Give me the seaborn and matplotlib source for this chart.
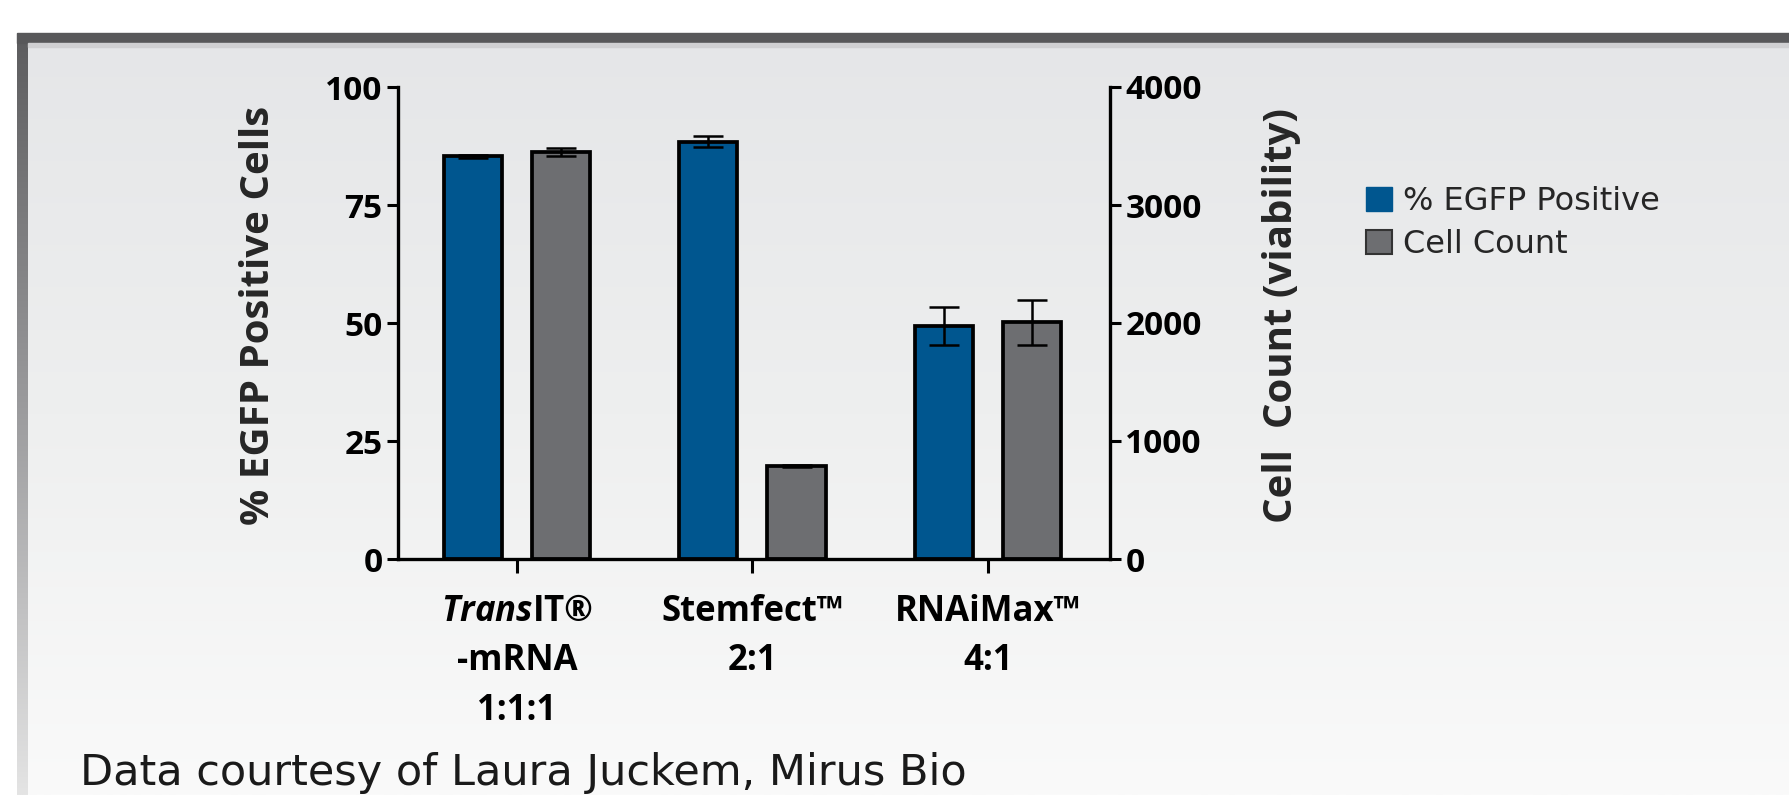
import matplotlib
matplotlib.use("Agg")
import numpy as np
import pandas as pd
import matplotlib.pyplot as plt
import seaborn as sns
from matplotlib.patches import Rectangle, Patch
from matplotlib.colors import LinearSegmentedColormap

# values
conditions = ["TransIT-mRNA 1:1:1", "Stemfect 2:1", "RNAiMax 4:1"]
tick_labels = [r"$\it{Trans}$IT®" + "\n-mRNA\n1:1:1", "Stemfect™\n2:1", "RNAiMax™\n4:1"]
series = ["% EGFP Positive", "Cell Count"]
egfp_pct = [85.3, 88.4, 49.3]
egfp_err = [0.3, 1.2, 4.0]
cell_count = [3450, 790, 2005]
cell_err = [35, 10, 190]
pct_ticks = [0, 25, 50, 75, 100]
count_ticks = [0, 1000, 2000, 3000, 4000]

blue = "#00568F"
gray = "#6D6E71"

sns.set_style("ticks")
plt.rcParams["font.family"] = ["Open Sans", "DejaVu Sans"]
plt.rcParams["mathtext.fontset"] = "custom"
plt.rcParams["mathtext.it"] = "Open Sans:italic:bold"
plt.rcParams["mathtext.rm"] = "Open Sans:bold"

fig = plt.figure(figsize=(17.9, 7.95), dpi=100)

# slide-style background panel
bg = fig.add_axes([0, 0, 1, 1], zorder=-10)
bg.axis("off")
panel = LinearSegmentedColormap.from_list("panel", ["#E5E6E8", "#EEEFEF", "#FAFAFA"])
bg.imshow(np.linspace(0, 1, 256).reshape(-1, 1), cmap=panel, aspect="auto",
          extent=(17, 1790, 795, 33), origin="upper")
edge = LinearSegmentedColormap.from_list("edge", ["#5C5C5E", "#9C9C9E", "#E4E4E4"])
bg.imshow(np.linspace(0, 1, 256).reshape(-1, 1), cmap=edge, aspect="auto",
          extent=(17, 28, 795, 33), origin="upper")
bg.add_patch(Rectangle((17, 33), 1773, 10, color="#58585A"))
bg.add_patch(Rectangle((28, 43), 1762, 4, color="#D0D0D2"))
bg.set_xlim(0, 1790)
bg.set_ylim(795, 0)

# main axes (left: % EGFP, right: cell count on a 0-4000 scale)
ax = fig.add_axes([398 / 1790, 1 - 559 / 795, 712 / 1790, 472 / 795])
ax.set_facecolor("none")
ax2 = ax.twinx()

# cell counts are drawn on the left axis in right-axis proportion
count_scale = pct_ticks[-1] / count_ticks[-1]
df = pd.DataFrame({
    "condition": conditions * 2,
    "series": [series[0]] * 3 + [series[1]] * 3,
    "value": egfp_pct + [c * count_scale for c in cell_count],
})
sns.barplot(data=df, x="condition", y="value", hue="series", order=conditions,
            hue_order=series, palette=dict(zip(series, [blue, gray])),
            width=0.75, gap=0.34, saturation=1, edgecolor="black", linewidth=2.7,
            errorbar=None, legend=False, ax=ax)

n = len(conditions)
bars = list(ax.patches)
for k, (vals, errs) in enumerate([(egfp_pct, egfp_err),
                                  ([c * count_scale for c in cell_count],
                                   [e * count_scale for e in cell_err])]):
    xs = sorted(p.get_x() + p.get_width() / 2 for p in bars[k * n:(k + 1) * n])
    ax.errorbar(xs, vals, yerr=errs, fmt="none", ecolor="black", elinewidth=1.8,
                capsize=11, capthick=1.8, zorder=5)

ax.set_ylim(0, 100)
ax.set_yticks(pct_ticks)
ax.set_yticklabels([str(t) for t in pct_ticks], fontsize=24, fontweight="bold")
ax2.set_ylim(0, 4000)
ax2.set_yticks(count_ticks)
ax2.set_yticklabels([str(t) for t in count_ticks], fontsize=24, fontweight="bold")
ax.set_xlim(-0.505, 2.518)
ax.set_xticks(range(n))
ax.set_xticklabels(tick_labels, fontsize=25, fontweight="bold", linespacing=1.5)
ax.set_xlabel("")

for s in ["top", "right"]:
    ax.spines[s].set_visible(False)
for s in ["top", "left", "bottom"]:
    ax2.spines[s].set_visible(False)
for a in (ax, ax2):
    for sp in a.spines.values():
        sp.set_linewidth(2.4)
        sp.set_color("black")
ax.tick_params(axis="y", length=8, width=2.2, pad=3, colors="black")
ax.tick_params(axis="x", length=10, width=2.2, pad=15, colors="black")
ax2.tick_params(axis="y", length=8, width=2.2, pad=3, colors="black")

ax.set_ylabel("% EGFP Positive Cells", fontsize=29, fontweight="bold")
ax.yaxis.set_label_coords(-0.169, 0.515)
ax2.set_ylabel("Cell  Count (viability)", fontsize=29, fontweight="bold")
ax2.yaxis.set_label_coords(1.214, 0.515)

handles = [Patch(facecolor=blue, edgecolor=blue, label=series[0]),
           Patch(facecolor=gray, edgecolor="#333333", linewidth=1.5, label=series[1])]
fig.legend(handles=handles, loc="upper left", bbox_to_anchor=(1366 / 1790, 1 - 186 / 795),
           frameon=False, prop={"family": "DejaVu Sans", "size": 23},
           handlelength=0.8, handleheight=0.8, handletextpad=0.35, labelspacing=0.38,
           borderpad=0, borderaxespad=0)

fig.text(80 / 1790, 1 - 773 / 795, "Data courtesy of Laura Juckem, Mirus Bio",
         fontsize=31, family="DejaVu Sans", va="center", ha="left", color="#1a1a1a")

fig.savefig("out.png", dpi=100)
